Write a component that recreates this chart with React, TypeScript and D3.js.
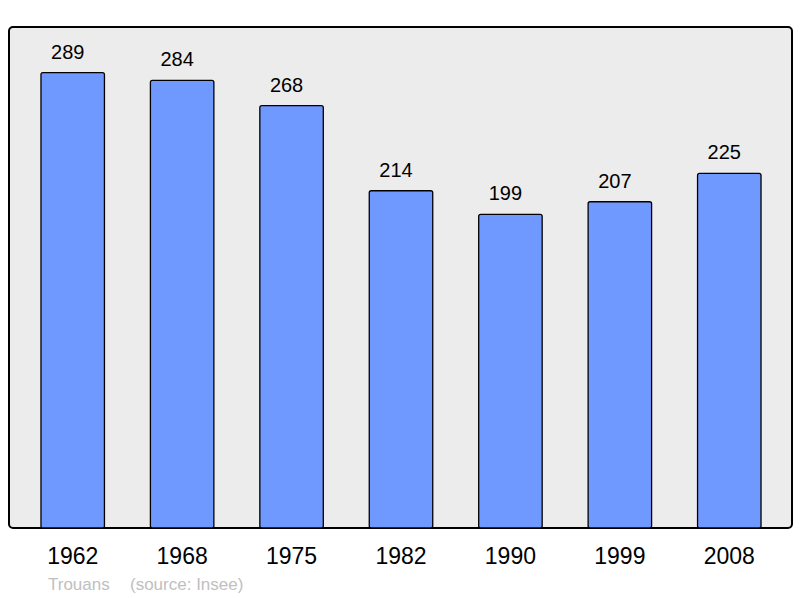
import React from 'react';
import * as d3 from 'd3';

const years = ['1962', '1968', '1975', '1982', '1990', '1999', '2008'];
const population = [289, 284, 268, 214, 199, 207, 225];
const commune = 'Trouans';
const source = '(source: Insee)';

const W = 800;
const H = 598;
const panel = {left: 9, top: 27, right: 792, bottom: 528};

export default function App() {
    const xScale = d3.scaleBand<string>()
        .domain(years)
        .range([18, 784])
        .paddingInner(0.42)
        .paddingOuter(0.21);

    const yScale = d3.scaleLinear()
        .domain([0, d3.max(population)! * 1.1])
        .range([panel.bottom, panel.top]);

    const data = years.map((y, i) => ({year: y, value: population[i]}));

    return (
        <svg width={W} height={H} style={{position: 'absolute', left: 0, top: 0}}
             fontFamily="'Liberation Sans', Arial, sans-serif">
            <rect x={panel.left} y={panel.top} width={panel.right - panel.left}
                  height={panel.bottom - panel.top} rx={4} ry={4}
                  fill="#ececec" stroke="#000" strokeWidth={2}/>
            {data.map(d => (
                <g key={d.year}>
                    <rect x={xScale(d.year)} y={yScale(d.value)}
                          width={xScale.bandwidth()}
                          height={yScale(0) - yScale(d.value)}
                          rx={2} ry={2}
                          fill="#7099ff" stroke="#000" strokeWidth={1.3}/>
                    <text x={xScale(d.year)! + xScale.bandwidth() / 2 - 5}
                          y={yScale(d.value) - 14}
                          textAnchor="middle" fontSize={20} fill="#000">{d.value}</text>
                    <text x={xScale(d.year)! + xScale.bandwidth() / 2}
                          y={564}
                          textAnchor="middle" fontSize={23} fill="#000">{d.year}</text>
                </g>
            ))}
            <text x={48} y={590} fontSize={17} fill="#c0c0c0">{commune}</text>
            <text x={130} y={590} fontSize={17} fill="#c0c0c0">{source}</text>
        </svg>
    );
}
